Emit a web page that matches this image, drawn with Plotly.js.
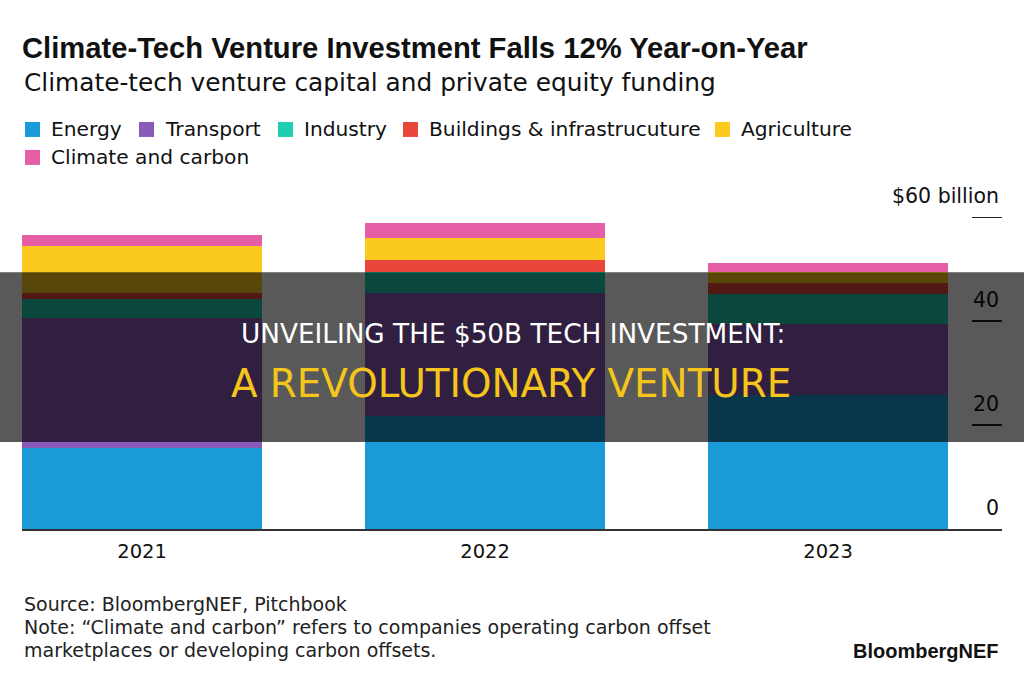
<!DOCTYPE html>
<html>
<head>
<meta charset="utf-8">
<script src="https://cdn.plot.ly/plotly-3.0.1.min.js"></script>
<style>html,body{margin:0;padding:0;background:#fff;}#chart{width:1024px;height:682px;}</style>
</head>
<body>
<div id="chart"></div>
<script>
// ---- data ----
const years = ["2021", "2022", "2023"];
const energy = [15.6, 21.7, 25.8];
const transport = [25.0, 23.7, 13.6];
const industry = [3.6, 4.0, 5.8];
const buildings = [1.2, 2.3, 2.1];
const agriculture = [9.0, 4.3, 2.1];
const climateCarbon = [2.2, 3.0, 1.9];
const seriesNames = ["Energy", "Transport", "Industry", "Buildings & infrastrucuture", "Agriculture", "Climate and carbon"];
const seriesColors = ["#1a9bd7", "#8a5ab8", "#1dcfb0", "#e8463a", "#fcc91e", "#e65fa6"];
const yTickVals = [0, 20, 40, 60];
const yTickText = ["0", "20", "40", "$60 billion"];

// ---- layout helpers (pixel -> paper) ----
const W = 1024, H = 682;
const YMAX = 67, PXU = 5.2;
const PL = 22, PR = 1002, PB = 529, PT = PB - YMAX * PXU;
const px = X => (X - PL) / (PR - PL);
const py = Y => (PB - Y) / (PB - PT);
const FONT = "DejaVu Sans, Liberation Sans, Arial, sans-serif";
const BFONT = "Liberation Sans, Arial, Helvetica, sans-serif";

const allSeries = [energy, transport, industry, buildings, agriculture, climateCarbon];
const xIdx = years.map((_, i) => i);
const traces = allSeries.map((vals, k) => ({
  type: "bar",
  name: seriesNames[k],
  x: xIdx,
  y: vals,
  width: 0.7,
  marker: {color: seriesColors[k], line: {width: 0}},
  hoverinfo: "skip",
  showlegend: false
}));

// manual legend (positions only; names/colours from the series arrays)
const legendPos = [[25, 129], [139, 129], [278, 129], [403, 129], [715, 129], [25, 157]];
const shapes = [];
const annotations = [];
legendPos.forEach(([lx, ly], k) => {
  shapes.push({type: "rect", xref: "paper", yref: "paper", layer: "above",
    x0: px(lx), x1: px(lx + 15), y0: py(ly + 7.5), y1: py(ly - 7.5),
    fillcolor: seriesColors[k], line: {width: 0}});
  annotations.push({text: seriesNames[k], xref: "paper", yref: "paper",
    x: px(lx + 24), y: py(ly), xanchor: "left", yanchor: "middle",
    showarrow: false, font: {family: FONT, size: 20.2, color: "#111"}});
});

// dark banner
shapes.push({type: "rect", xref: "paper", yref: "paper", layer: "above",
  x0: px(0), x1: px(W), y0: py(442), y1: py(272),
  fillcolor: "rgba(0,0,0,0.65)", line: {width: 0}});

annotations.push(
  {text: "Climate-tech venture capital and private equity funding",
   xref: "paper", yref: "paper", x: px(22), y: py(82), xanchor: "left", yanchor: "middle",
   showarrow: false, font: {family: FONT, size: 24.8, color: "#111"}},
  {text: "Source: BloombergNEF, Pitchbook",
   xref: "paper", yref: "paper", x: px(22), y: py(604), xanchor: "left", yanchor: "middle",
   showarrow: false, font: {family: FONT, size: 19, color: "#222"}},
  {text: "Note: \u201cClimate and carbon\u201d refers to companies operating carbon offset",
   xref: "paper", yref: "paper", x: px(22), y: py(627), xanchor: "left", yanchor: "middle",
   showarrow: false, font: {family: FONT, size: 19, color: "#222"}},
  {text: "marketplaces or developing carbon offsets.",
   xref: "paper", yref: "paper", x: px(22), y: py(650), xanchor: "left", yanchor: "middle",
   showarrow: false, font: {family: FONT, size: 19, color: "#222"}},
  {text: "<b>BloombergNEF</b>",
   xref: "paper", yref: "paper", x: px(1001), y: py(651), xanchor: "right", yanchor: "middle",
   showarrow: false, font: {family: BFONT, size: 20, color: "#111"}},
  {text: "UNVEILING THE $50B TECH INVESTMENT:",
   xref: "paper", yref: "paper", x: px(513), y: py(334), xanchor: "center", yanchor: "middle",
   showarrow: false, font: {family: FONT, size: 26.3, color: "#ffffff"}},
  {text: "A REVOLUTIONARY VENTURE",
   xref: "paper", yref: "paper", x: px(511), y: py(383), xanchor: "center", yanchor: "middle",
   showarrow: false, font: {family: FONT, size: 38.8, color: "#f6c51b"}}
);

const layout = {
  width: W, height: H,
  paper_bgcolor: "#fff", plot_bgcolor: "#fff",
  margin: {l: PL, r: W - PR, t: PT, b: H - PB, pad: 0},
  barmode: "stack",
  font: {family: FONT, color: "#111", size: 20},
  showlegend: false,
  title: {
    text: "<b>Climate-Tech Venture Investment Falls 12% Year-on-Year</b>",
    font: {family: BFONT, size: 29.2, color: "#111"},
    x: 22 / W, xref: "container", xanchor: "left",
    y: 1 - 48 / H, yref: "container", yanchor: "middle"
  },
  xaxis: {
    type: "linear",
    range: [-0.35, 2.507],
    tickvals: xIdx, ticktext: years,
    showgrid: false, zeroline: false,
    showline: true, linecolor: "#333", linewidth: 1.5,
    ticks: "", tickfont: {family: FONT, size: 19.5, color: "#111"},
    ticklabelstandoff: 4,
    fixedrange: true
  },
  yaxis: {
    range: [0, YMAX],
    side: "right",
    tickvals: yTickVals, ticktext: yTickText,
    ticks: "inside", ticklen: 30, tickwidth: 1.6, tickcolor: "#222",
    ticklabelposition: "inside top",
    ticklabelshift: -6,
    showgrid: false, zeroline: false, showline: false,
    tickfont: {family: FONT, size: 20.5, color: "#111"},
    fixedrange: true
  },
  shapes: shapes,
  annotations: annotations
};

Plotly.newPlot("chart", traces, layout, {displayModeBar: false, staticPlot: true});
</script>
</body>
</html>
